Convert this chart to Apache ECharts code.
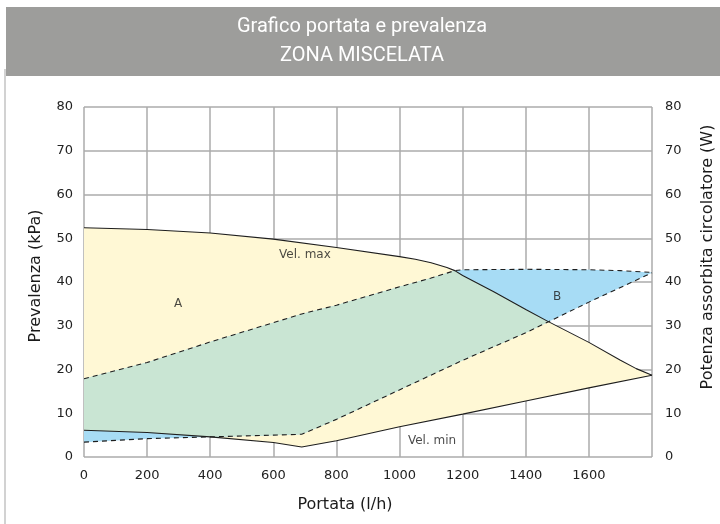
<!DOCTYPE html>
<html>
<head>
<meta charset="utf-8">
<script src="https://cdn.jsdelivr.net/npm/echarts@6/dist/echarts.min.js"></script>
<style>
  html, body { margin: 0; padding: 0; background: #ffffff; }
  #chart { width: 720px; height: 524px; }
</style>
</head>
<body>
<div id="chart"></div>
<script>
// Curva di prevalenza alla velocità massima (kPa)
const velMaxX = [0, 200, 400, 600, 800, 1000, 1050, 1100, 1150, 1175, 1200, 1300, 1400, 1470, 1600, 1700, 1750, 1800];
const velMaxY = [52.4, 52.0, 51.2, 49.8, 47.9, 45.8, 45.2, 44.4, 43.3, 42.6, 41.5, 37.7, 33.7, 31.0, 26.2, 22.1, 20.2, 18.7];

// Curva di prevalenza alla velocità minima (kPa)
const velMinX = [0, 200, 400, 600, 690, 800, 1000, 1200, 1400, 1600, 1800];
const velMinY = [6.1, 5.6, 4.6, 3.3, 2.3, 3.7, 6.9, 9.8, 12.8, 15.8, 18.7];

// Potenza assorbita alla velocità massima (W)
const potMaxX = [0, 200, 400, 600, 690, 800, 1000, 1100, 1175, 1200, 1400, 1600, 1700, 1800];
const potMaxY = [17.9, 21.6, 26.3, 30.7, 32.7, 34.7, 38.9, 40.9, 42.6, 42.8, 42.9, 42.8, 42.6, 42.2];

// Potenza assorbita alla velocità minima (W)
const potMinX = [0, 200, 400, 600, 690, 800, 1200, 1400, 1600, 1800];
const potMinY = [3.4, 4.2, 4.6, 5.0, 5.2, 8.6, 22.1, 28.4, 35.4, 42.1];

// Etichette delle curve e delle zone
const noteText = ['Vel. max', 'A', 'B', 'Vel. min'];
const noteX = [700, 298, 1499, 1103];
const noteY = [46.2, 34.9, 36.7, 3.6];

// Scale e tacche
const portataTicks = [0, 200, 400, 600, 800, 1000, 1200, 1400, 1600, 1800];
const yTicks = [0, 10, 20, 30, 40, 50, 60, 70, 80];

const zip = (xs, ys) => xs.map((x, i) => [x, ys[i]]);
const curves = [[velMaxX, velMaxY], [velMinX, velMinY], [potMaxX, potMaxY], [potMinX, potMinY]];

function valueAt(xs, ys, x) {
  if (x <= xs[0]) return ys[0];
  for (let i = 1; i < xs.length; i++) {
    if (x <= xs[i]) {
      const t = (x - xs[i - 1]) / (xs[i] - xs[i - 1]);
      return ys[i - 1] + t * (ys[i] - ys[i - 1]);
    }
  }
  return ys[ys.length - 1];
}
const f = (k, x) => valueAt(curves[k][0], curves[k][1], x);

// Zona A: tra le curve di prevalenza
const zoneA = zip(velMaxX, velMaxY).concat(zip(velMinX, velMinY).reverse());
// Zona B: tra le curve di potenza
const zoneB = zip(potMaxX, potMaxY).concat(zip(potMinX, potMinY).reverse());

// Sovrapposizione A ∩ B (funzioni lineari a tratti sulla portata)
function overlapZone() {
  let xs = Array.from(new Set([].concat(velMaxX, velMinX, potMaxX, potMinX))).sort((a, b) => a - b);
  const extra = [];
  for (let k = 1; k < xs.length; k++) {
    const a = xs[k - 1], b = xs[k];
    for (let i = 0; i < 4; i++) {
      for (let j = i + 1; j < 4; j++) {
        const da = f(i, a) - f(j, a), db = f(i, b) - f(j, b);
        if (da * db < 0) extra.push(a + (b - a) * da / (da - db));
      }
    }
  }
  xs = xs.concat(extra).sort((a, b) => a - b);
  const top = [], bottom = [];
  xs.forEach(x => {
    const hi = Math.min(f(0, x), f(2, x));
    const lo = Math.max(f(1, x), f(3, x));
    if (hi - lo > -1e-6) { top.push([x, hi]); bottom.push([x, lo]); }
  });
  return top.concat(bottom.reverse());
}
const zoneAB = overlapZone();

function polygonSeries(points, color, yAxisIndex) {
  return {
    type: 'custom',
    yAxisIndex: yAxisIndex,
    silent: true,
    clip: true,
    data: [0],
    z: 1,
    renderItem: function (params, api) {
      return {
        type: 'polygon',
        shape: { points: points.map(p => api.coord(p)) },
        style: { fill: color, stroke: null }
      };
    }
  };
}

const lineStyleSolid = { color: '#1e1e1e', width: 1.1 };
const lineStyleDashed = { color: '#1e1e1e', width: 1.1, type: [5, 4] };

const font = 'DejaVu Sans';
const gridColor = '#ababab';
const titleFont = '20px Roboto, "Noto Sans", sans-serif';

const chart = echarts.init(document.getElementById('chart'), null, { renderer: 'canvas' });
chart.setOption({
  animation: false,
  backgroundColor: '#ffffff',
  grid: { left: 84, right: 68, top: 107, bottom: 67, containLabel: false },
  xAxis: {
    type: 'value',
    min: portataTicks[0],
    max: portataTicks[portataTicks.length - 1],
    interval: portataTicks[1] - portataTicks[0],
    axisLine: { show: false },
    axisTick: { show: false },
    splitLine: { show: true, lineStyle: { color: gridColor, width: 1.5 } },
    axisLabel: { showMaxLabel: false, margin: 12, fontFamily: font, fontSize: 13, color: '#222', formatter: v => String(v) }
  },
  yAxis: [
    {
      type: 'value', min: yTicks[0], max: yTicks[yTicks.length - 1], interval: yTicks[1] - yTicks[0],
      axisLine: { show: false }, axisTick: { show: false },
      splitLine: { show: true, lineStyle: { color: gridColor, width: 1.5 } },
      axisLabel: { margin: 11, fontFamily: font, fontSize: 13, color: '#222' }
    },
    {
      type: 'value', position: 'right', min: yTicks[0], max: yTicks[yTicks.length - 1], interval: yTicks[1] - yTicks[0],
      axisLine: { show: false }, axisTick: { show: false }, splitLine: { show: false },
      axisLabel: { margin: 13, fontFamily: font, fontSize: 13, color: '#222' }
    }
  ],
  graphic: [
    { type: 'rect', shape: { x: 6, y: 7, width: 714, height: 69 }, style: { fill: '#9d9d9b' }, silent: true },
    { type: 'rect', shape: { x: 4, y: 69, width: 2, height: 455 }, style: { fill: '#d2d2d2' }, silent: true },
    { type: 'text', x: 362, y: 27, style: { text: 'Grafico portata e prevalenza', fill: '#ffffff', font: titleFont, align: 'center', verticalAlign: 'middle' } },
    { type: 'text', x: 362, y: 56, style: { text: 'ZONA MISCELATA', fill: '#ffffff', font: titleFont, align: 'center', verticalAlign: 'middle' } },
    { type: 'text', x: 36, y: 276, rotation: Math.PI / 2, style: { text: 'Prevalenza (kPa)', fill: '#1a1a1a', font: '16px "DejaVu Sans"', align: 'center', verticalAlign: 'middle' } },
    { type: 'text', x: 708, y: 257, rotation: Math.PI / 2, style: { text: 'Potenza assorbita circolatore (W)', fill: '#1a1a1a', font: '16px "DejaVu Sans"', align: 'center', verticalAlign: 'middle' } },
    { type: 'text', x: 345, y: 505, style: { text: 'Portata (l/h)', fill: '#1a1a1a', font: '16px "DejaVu Sans"', align: 'center', verticalAlign: 'middle' } }
  ],
  series: [
    polygonSeries(zoneA, '#fff8d5', 0),
    polygonSeries(zoneB, '#a7dcf5', 1),
    polygonSeries(zoneAB, '#c9e5d3', 0),
    { type: 'line', yAxisIndex: 0, data: zip(velMaxX, velMaxY), symbol: 'none', lineStyle: lineStyleSolid, z: 5, silent: true },
    { type: 'line', yAxisIndex: 0, data: zip(velMinX, velMinY), symbol: 'none', lineStyle: lineStyleSolid, z: 5, silent: true },
    { type: 'line', yAxisIndex: 1, data: zip(potMaxX, potMaxY), symbol: 'none', lineStyle: lineStyleDashed, z: 5, silent: true },
    { type: 'line', yAxisIndex: 1, data: zip(potMinX, potMinY), symbol: 'none', lineStyle: lineStyleDashed, z: 5, silent: true },
    {
      type: 'scatter', yAxisIndex: 0, symbolSize: 0, silent: true, z: 6,
      data: noteX.map((x, i) => ({ value: [x, noteY[i]], name: noteText[i] })),
      label: { show: true, position: 'inside', formatter: p => p.name, fontFamily: font, fontSize: 12, color: '#1a1a1a' }
    }
  ]
});
</script>
</body>
</html>
